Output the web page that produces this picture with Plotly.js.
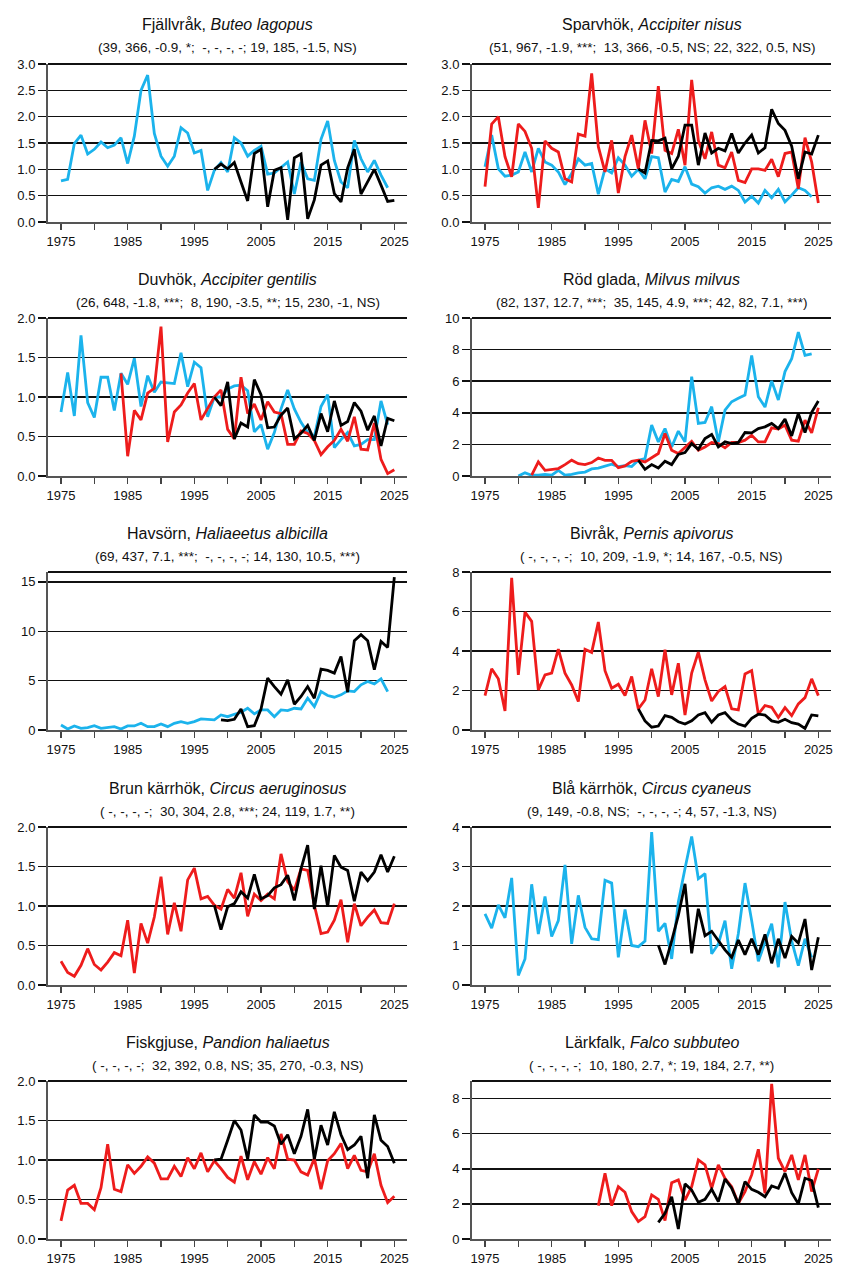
<!DOCTYPE html>
<html>
<head>
<meta charset="utf-8">
<script src="https://cdn.plot.ly/plotly-3.0.1.min.js"></script>
<style>
  html, body { margin: 0; padding: 0; background: #ffffff; }
  #chart { width: 848px; height: 1272px; }
</style>
</head>
<body>
<div id="chart"></div>
<script>
// ---------- Data ----------
const tickYears = [1975, 1980, 1985, 1990, 1995, 2000, 2005, 2010, 2015, 2020, 2025];
const tickYearLabels = ['1975', '', '1985', '', '1995', '', '2005', '', '2015', '', '2025'];

// 1. Fjällvråk
const fjallvrak_cyan_start = 1975;
const fjallvrak_cyan = [0.78,0.81,1.49,1.65,1.29,1.38,1.52,1.41,1.46,1.60,1.11,1.63,2.50,2.79,1.68,1.25,1.06,1.25,1.79,1.69,1.31,1.36,0.60,0.98,1.13,0.95,1.60,1.50,1.25,1.36,1.44,0.91,0.93,1.03,1.14,0.53,1.14,0.82,0.79,1.57,1.92,1.17,0.76,0.65,1.55,1.20,0.95,1.17,0.89,0.65];
const fjallvrak_black_start = 1998;
const fjallvrak_black = [1.00,1.10,1.01,1.13,0.76,0.40,1.30,1.38,0.29,0.98,1.03,0.04,1.22,1.29,0.06,0.42,1.08,1.16,0.54,0.38,1.03,1.38,0.53,0.76,1.00,0.70,0.39,0.41];

// 2. Sparvhök
const sparvhok_cyan_start = 1975;
const sparvhok_cyan = [1.05,1.65,1.01,0.87,0.89,0.95,1.33,0.95,1.40,1.14,1.08,0.95,0.71,0.92,1.20,1.08,1.11,0.53,1.01,0.93,1.22,1.08,0.87,1.00,0.82,1.24,1.22,0.57,0.81,0.77,1.05,0.72,0.67,0.55,0.65,0.68,0.62,0.68,0.60,0.38,0.49,0.36,0.60,0.46,0.62,0.38,0.51,0.65,0.60,0.48];
const sparvhok_red_start = 1975;
const sparvhok_red = [0.67,1.86,2.00,1.24,0.86,1.86,1.72,1.40,0.27,1.54,1.40,1.33,0.82,0.76,1.67,1.63,2.82,1.43,0.95,1.55,0.55,1.24,1.65,1.01,1.93,1.30,2.58,1.36,1.30,1.76,1.08,2.70,1.55,1.20,1.71,1.08,1.03,1.33,0.79,0.75,1.01,1.01,0.98,1.19,0.86,1.30,1.33,0.63,1.60,1.14,0.36];
const sparvhok_black_start = 1998;
const sparvhok_black = [1.01,0.93,1.55,1.54,1.59,1.01,1.25,1.84,1.84,1.08,1.69,1.31,1.40,1.35,1.68,1.31,1.50,1.65,1.31,1.41,2.14,1.87,1.74,1.44,0.82,1.33,1.29,1.65];

// 3. Duvhök
const duvhok_cyan_start = 1975;
const duvhok_cyan = [0.81,1.31,0.76,1.78,0.93,0.74,1.25,1.25,0.83,1.30,1.16,1.49,0.88,1.27,1.06,1.19,1.18,1.17,1.56,1.13,1.44,1.37,0.75,1.00,1.00,1.10,1.14,1.15,1.08,0.56,0.65,0.34,0.55,0.85,1.09,0.85,0.68,0.55,0.50,0.88,1.03,0.36,0.46,0.55,0.38,0.40,0.46,0.46,0.95,0.65];
const duvhok_red_start = 1984;
const duvhok_red = [1.30,0.25,0.83,0.71,1.05,1.11,1.89,0.43,0.81,0.90,1.05,1.17,0.71,0.86,1.00,1.09,0.59,0.47,1.25,0.79,0.91,0.71,0.94,0.81,0.79,0.40,0.40,0.57,0.54,0.45,0.27,0.37,0.45,0.59,0.44,0.75,0.34,0.33,0.67,0.21,0.03,0.08];
const duvhok_black_start = 1998;
const duvhok_black = [1.00,0.89,1.19,0.47,0.67,0.62,1.22,1.03,0.61,0.62,0.77,0.86,0.47,0.54,0.64,0.45,0.79,0.56,0.95,0.64,0.69,0.93,0.82,0.58,0.76,0.38,0.73,0.70];

// 4. Röd glada
const rodglada_cyan_start = 1980;
const rodglada_cyan = [0.00,0.20,0.05,0.05,0.10,0.05,0.35,0.05,0.10,0.20,0.25,0.45,0.50,0.65,0.75,0.60,0.65,0.60,1.00,1.10,3.22,2.16,3.00,1.84,2.84,2.16,6.29,3.33,3.39,4.39,2.16,4.17,4.70,4.92,5.13,7.63,5.02,4.36,6.02,4.81,6.61,7.42,9.11,7.63,7.73];
const rodglada_red_start = 1982;
const rodglada_red = [0.05,0.89,0.36,0.42,0.47,0.72,1.00,0.78,0.72,0.85,1.14,0.99,0.99,0.53,0.64,0.93,1.00,0.89,1.14,1.42,2.69,1.63,1.42,1.78,2.20,1.63,1.84,2.12,2.05,1.78,2.12,2.12,2.27,2.58,2.16,2.16,3.05,2.97,3.22,2.27,2.20,3.54,2.73,4.32];
const rodglada_black_start = 1998;
const rodglada_black = [1.00,0.42,0.72,0.51,0.93,0.72,1.36,1.48,2.05,1.69,2.37,2.63,1.84,2.16,2.05,2.12,2.75,2.73,3.00,3.11,3.33,3.00,3.60,2.54,3.96,2.75,4.03,4.75];

// 5. Havsörn
const havsorn_cyan_start = 1975;
const havsorn_cyan = [0.51,0.10,0.41,0.17,0.24,0.44,0.17,0.24,0.34,0.10,0.41,0.41,0.68,0.34,0.34,0.61,0.34,0.68,0.85,0.68,0.85,1.12,1.08,1.02,1.52,1.35,1.59,1.79,2.20,1.63,2.03,2.03,1.35,2.03,1.96,2.20,2.13,3.22,2.37,3.89,3.49,3.32,3.56,3.96,3.89,4.57,4.91,4.67,5.18,3.89];
const havsorn_black_start = 1999;
const havsorn_black = [1.02,0.95,1.08,2.13,0.34,0.44,2.13,5.25,4.40,3.62,5.08,2.61,3.39,4.40,3.22,6.16,6.03,5.76,7.45,3.83,9.04,9.65,9.04,6.10,8.97,8.36,15.48];

// 6. Bivråk
const bivrak_red_start = 1975;
const bivrak_red = [1.74,3.10,2.59,0.96,7.70,2.79,5.97,5.50,2.03,2.79,2.88,4.09,2.88,2.28,1.44,4.09,3.93,5.47,3.00,2.12,2.32,1.74,2.71,1.07,1.52,3.10,1.69,4.06,1.78,3.38,0.76,2.88,3.94,2.54,1.47,1.95,2.20,1.07,1.02,2.84,3.01,0.80,1.24,1.15,0.63,1.13,0.73,1.32,1.64,2.59,1.74];
const bivrak_black_start = 1998;
const bivrak_black = [1.07,0.46,0.14,0.20,0.73,0.64,0.42,0.30,0.47,0.76,0.88,0.39,0.76,0.88,0.51,0.30,0.20,0.59,0.80,0.76,0.46,0.39,0.54,0.37,0.30,0.08,0.76,0.71];

// 7. Brun kärrhök
const brunkarrhok_red_start = 1975;
const brunkarrhok_red = [0.30,0.16,0.11,0.25,0.46,0.26,0.19,0.29,0.41,0.37,0.82,0.15,0.78,0.53,0.86,1.37,0.64,1.04,0.68,1.33,1.48,1.09,1.12,1.01,0.96,1.21,1.10,1.42,0.87,1.15,1.07,1.15,1.09,1.66,1.31,1.20,1.47,1.45,1.01,0.65,0.67,0.82,1.08,0.54,1.03,0.75,0.86,0.95,0.79,0.78,1.03];
const brunkarrhok_black_start = 1998;
const brunkarrhok_black = [1.01,0.70,0.99,1.03,1.18,1.10,1.40,1.09,1.13,1.23,1.27,1.39,1.07,1.47,1.77,0.96,1.51,0.99,1.64,1.49,1.45,1.06,1.43,1.32,1.43,1.65,1.43,1.63];

// 8. Blå kärrhök
const blakarrhok_cyan_start = 1975;
const blakarrhok_cyan = [1.80,1.44,2.03,1.70,2.71,0.24,0.66,2.55,1.29,2.24,1.23,1.63,3.04,1.04,2.27,1.46,1.17,1.15,2.65,2.58,0.70,1.91,1.00,0.97,1.11,3.87,1.36,1.56,0.66,2.10,2.95,3.76,2.69,2.82,0.79,1.04,1.63,0.41,1.30,2.58,1.63,0.60,1.08,1.55,0.45,2.10,1.12,0.49,1.17,0.70];
const blakarrhok_black_start = 2001;
const blakarrhok_black = [1.01,0.52,1.12,1.76,2.56,0.80,1.93,1.25,1.36,1.12,0.89,0.70,1.14,0.77,1.17,0.77,1.28,0.55,1.17,0.68,1.23,1.06,1.67,0.38,1.21];

// 9. Fiskgjuse
const fiskgjuse_red_start = 1975;
const fiskgjuse_red = [0.23,0.62,0.68,0.45,0.45,0.37,0.65,1.20,0.63,0.60,0.94,0.83,0.92,1.04,0.96,0.76,0.76,0.92,0.79,1.03,0.89,1.09,0.85,0.99,0.89,0.78,0.72,1.05,0.75,0.98,0.82,1.03,0.89,1.33,1.01,1.00,0.85,0.81,1.02,0.63,0.99,1.08,1.21,0.89,1.06,0.87,0.85,1.08,0.68,0.46,0.54];
const fiskgjuse_black_start = 1998;
const fiskgjuse_black = [1.00,1.01,1.25,1.50,1.38,1.01,1.57,1.48,1.48,1.43,1.20,1.32,1.08,1.30,1.64,1.01,1.44,1.19,1.61,1.32,1.13,1.19,1.30,0.77,1.57,1.25,1.17,0.96];

// 10. Lärkfalk
const larkfalk_red_start = 1992;
const larkfalk_red = [1.90,3.75,1.90,2.98,2.66,1.56,0.99,1.27,2.51,2.26,1.05,3.21,3.37,2.22,2.98,4.51,4.22,2.89,4.22,3.46,2.98,2.03,2.70,3.65,5.11,2.60,8.84,4.60,3.84,4.79,3.37,4.79,2.70,3.99];
const larkfalk_black_start = 2001;
const larkfalk_black = [0.95,1.46,2.41,0.57,3.14,2.79,2.09,2.26,2.83,2.13,3.42,2.89,2.00,3.27,2.83,2.66,2.41,3.02,2.89,3.75,2.64,2.00,3.46,3.33,1.79];

// Titles
const panelNames = ['Fjällvråk', 'Sparvhök', 'Duvhök', 'Röd glada', 'Havsörn', 'Bivråk', 'Brun kärrhök', 'Blå kärrhök', 'Fiskgjuse', 'Lärkfalk'];
const panelLatin = ['Buteo lagopus', 'Accipiter nisus', 'Accipiter gentilis', 'Milvus milvus', 'Haliaeetus albicilla', 'Pernis apivorus', 'Circus aeruginosus', 'Circus cyaneus', 'Pandion haliaetus', 'Falco subbuteo'];
const panelStats = [
  '(39, 366, -0.9, *;  -, -, -, -; 19, 185, -1.5, NS)',
  '(51, 967, -1.9, ***;  13, 366, -0.5, NS; 22, 322, 0.5, NS)',
  '(26, 648, -1.8, ***;  8, 190, -3.5, **; 15, 230, -1, NS)',
  '(82, 137, 12.7, ***;  35, 145, 4.9, ***; 42, 82, 7.1, ***)',
  '(69, 437, 7.1, ***;  -, -, -, -; 14, 130, 10.5, ***)',
  '( -, -, -, -;  10, 209, -1.9, *; 14, 167, -0.5, NS)',
  '( -, -, -, -;  30, 304, 2.8, ***; 24, 119, 1.7, **)',
  '(9, 149, -0.8, NS;  -, -, -, -; 4, 57, -1.3, NS)',
  '( -, -, -, -;  32, 392, 0.8, NS; 35, 270, -0.3, NS)',
  '( -, -, -, -;  10, 180, 2.7, *; 19, 184, 2.7, **)'
];

// y-axis ranges and ticks per panel
const panelYMax = [3, 3, 2, 10, 16, 8, 2, 4, 2, 9];
const panelYTicks = [
  [0, 0.5, 1, 1.5, 2, 2.5, 3],
  [0, 0.5, 1, 1.5, 2, 2.5, 3],
  [0, 0.5, 1, 1.5, 2],
  [0, 2, 4, 6, 8, 10],
  [0, 5, 10, 15],
  [0, 2, 4, 6, 8],
  [0, 0.5, 1, 1.5, 2],
  [0, 1, 2, 3, 4],
  [0, 0.5, 1, 1.5, 2],
  [0, 2, 4, 6, 8]
];
const panelYFormat = ['.1f', '.1f', '.1f', 'd', 'd', 'd', '.1f', 'd', '.1f', 'd'];

// ---------- Build ----------
const CYAN = '#1BB3EC', RED = '#EE1C1C', BLACK = '#000000';
function yrs(start, n) { return Array.from({length: n}, (_, i) => start + i); }

const panelSeries = [
  [[fjallvrak_cyan_start, fjallvrak_cyan, CYAN], [fjallvrak_black_start, fjallvrak_black, BLACK]],
  [[sparvhok_cyan_start, sparvhok_cyan, CYAN], [sparvhok_red_start, sparvhok_red, RED], [sparvhok_black_start, sparvhok_black, BLACK]],
  [[duvhok_cyan_start, duvhok_cyan, CYAN], [duvhok_red_start, duvhok_red, RED], [duvhok_black_start, duvhok_black, BLACK]],
  [[rodglada_cyan_start, rodglada_cyan, CYAN], [rodglada_red_start, rodglada_red, RED], [rodglada_black_start, rodglada_black, BLACK]],
  [[havsorn_cyan_start, havsorn_cyan, CYAN], [havsorn_black_start, havsorn_black, BLACK]],
  [[bivrak_red_start, bivrak_red, RED], [bivrak_black_start, bivrak_black, BLACK]],
  [[brunkarrhok_red_start, brunkarrhok_red, RED], [brunkarrhok_black_start, brunkarrhok_black, BLACK]],
  [[blakarrhok_cyan_start, blakarrhok_cyan, CYAN], [blakarrhok_black_start, blakarrhok_black, BLACK]],
  [[fiskgjuse_red_start, fiskgjuse_red, RED], [fiskgjuse_black_start, fiskgjuse_black, BLACK]],
  [[larkfalk_red_start, larkfalk_red, RED], [larkfalk_black_start, larkfalk_black, BLACK]]
];

const W = 848, H = 1272;
const colX = [[48, 407], [472, 831]];
const rowTop = [64, 318, 572, 827, 1081];
const plotH = 158;

const FONT = 'Liberation Sans, Arial, Helvetica, sans-serif';
const traces = [];
const layout = {
  width: W, height: H,
  margin: {l: 0, r: 0, t: 0, b: 0},
  paper_bgcolor: '#ffffff', plot_bgcolor: '#ffffff',
  showlegend: false,
  font: {family: FONT, color: '#111111', size: 13},
  annotations: [], shapes: []
};

for (let p = 0; p < 10; p++) {
  const idx = p + 1;
  const xa = idx === 1 ? 'x' : 'x' + idx;
  const ya = idx === 1 ? 'y' : 'y' + idx;
  const col = p % 2, row = Math.floor(p / 2);
  const [x0, x1] = colX[col];
  const top = rowTop[row], bot = top + plotH;

  panelSeries[p].forEach(([start, vals, color]) => {
    traces.push({
      type: 'scatter', mode: 'lines',
      x: yrs(start, vals.length), y: vals,
      xaxis: xa, yaxis: ya,
      line: {color: color, width: 2.8},
      hoverinfo: 'skip'
    });
  });

  layout[idx === 1 ? 'xaxis' : 'xaxis' + idx] = {
    domain: [x0 / W, x1 / W],
    anchor: ya,
    range: [1973.05, 2026.9],
    tickvals: tickYears, ticktext: tickYearLabels,
    ticks: 'outside', ticklen: 6, tickwidth: 1.5, tickcolor: '#444444',
    showline: true, linecolor: '#555555', linewidth: 2,
    showgrid: false, zeroline: false,
    tickfont: {family: FONT, size: 13, color: '#111111'}
  };
  layout[idx === 1 ? 'yaxis' : 'yaxis' + idx] = {
    domain: [1 - bot / H, 1 - top / H],
    anchor: xa,
    range: [0, panelYMax[p]],
    tickvals: panelYTicks[p], tickformat: panelYFormat[p],
    ticks: 'outside', ticklen: 8, tickwidth: 1.5, tickcolor: '#111111',
    showline: true, linecolor: '#555555', linewidth: 2,
    showgrid: true, gridcolor: '#111111', gridwidth: 1.5,
    zeroline: false,
    tickfont: {family: FONT, size: 13, color: '#111111'}
  };

  // top border line
  layout.shapes.push({
    type: 'line', xref: xa + ' domain', yref: ya + ' domain',
    x0: 0, x1: 1, y0: 1, y1: 1,
    line: {color: '#111111', width: 1.8}
  });

  const cx = ((x0 + x1) / 2) / W;
  layout.annotations.push({
    xref: 'paper', yref: 'paper', x: cx, y: 1 - (top - 39) / H,
    xanchor: 'center', yanchor: 'middle', showarrow: false,
    text: panelNames[p] + ', <i>' + panelLatin[p] + '</i>',
    font: {family: FONT, size: 16, color: '#111111'}
  });
  layout.annotations.push({
    xref: 'paper', yref: 'paper', x: cx, y: 1 - (top - 16) / H,
    xanchor: 'center', yanchor: 'middle', showarrow: false,
    text: panelStats[p].replace(/  /g, '\u00a0 '),
    font: {family: FONT, size: 13.5, color: '#111111'}
  });
}

Plotly.newPlot('chart', traces, layout, {displayModeBar: false, staticPlot: true});
</script>
</body>
</html>
